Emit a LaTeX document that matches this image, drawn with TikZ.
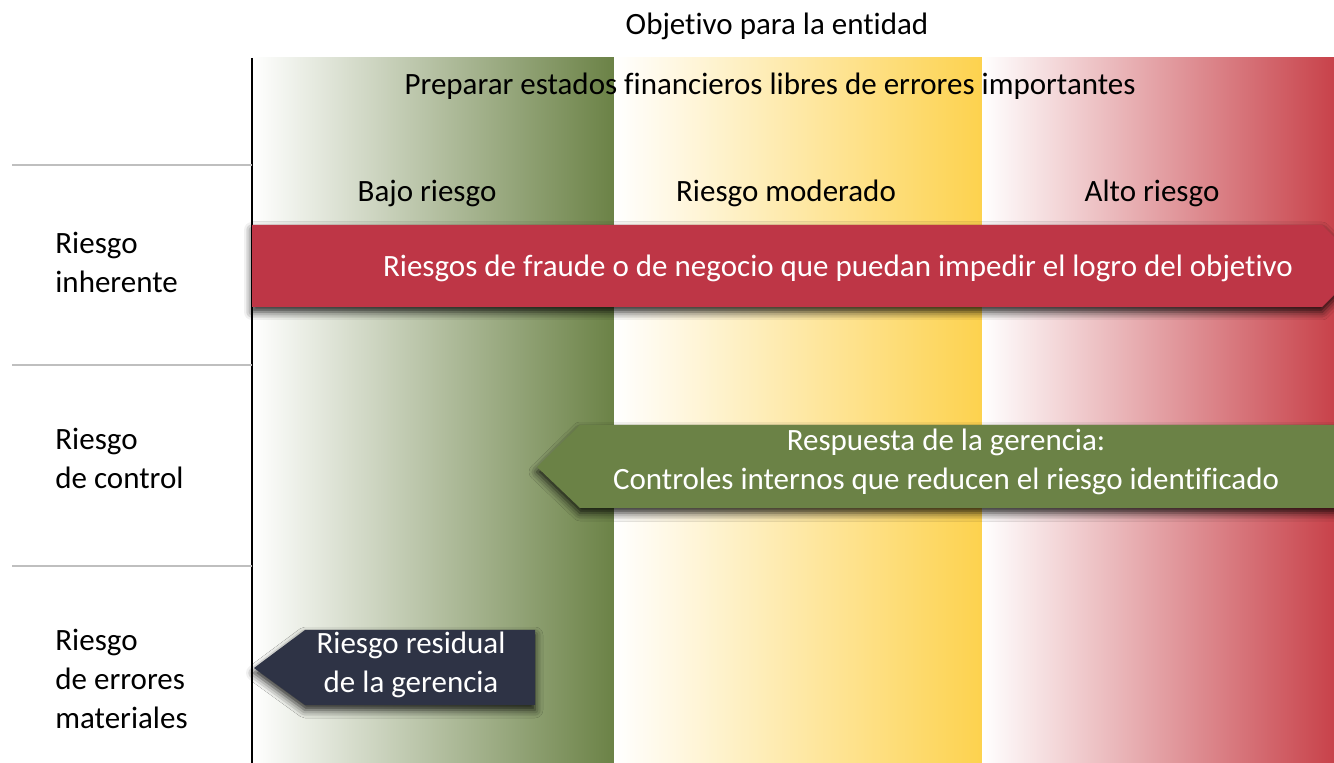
\documentclass[tikz,border=0pt]{standalone}
\usepackage{fontspec}
\setmainfont{Carlito}[Ligatures=NoCommon]
\usetikzlibrary{shapes,arrows,positioning,calc,shadows.blur}
\definecolor{verde}{HTML}{6B8246}
\definecolor{oro}{HTML}{FDD24E}
\definecolor{rojo}{HTML}{C8424A}
\definecolor{rojoflecha}{HTML}{BE3646}
\definecolor{marino}{HTML}{2E3345}
\tikzstyle{texto} = [inner sep=0pt, align=center, anchor=base, font=\fontsize{15.5}{19.5}\selectfont]
\tikzstyle{rotulo} = [texto, align=left, anchor=base west]
\tikzstyle{blanco} = [texto, text=white]
\tikzstyle{separador} = [draw=black!25, line width=0.6pt]
\tikzstyle{sombra} = [blur shadow={shadow xshift=0pt, shadow yshift=-2.5pt, shadow blur radius=4pt, shadow opacity=85}]

\begin{document}
\begin{tikzpicture}[x=0.5pt, y=-0.5pt]
    \clip (0,0) rectangle (1334,763);
    
    % bandas de riesgo
    \shade[left color=white, right color=verde] (252,58) rectangle (614,763);
    \shade[left color=white, right color=oro] (614,58) rectangle (982,763);
    \shade[left color=white, right color=rojo] (982,58) rectangle (1334,763);
    \draw[line width=0.6pt] (252,58) -- (252,763);
    \draw[separador] (12,165) -- (252,165);
    \draw[separador] (12,365) -- (252,365);
    \draw[separador] (12,566) -- (252,566);
    
    \node[texto] (objetivo) at (777,35) {Objetivo para la entidad};
    \node[texto] (meta) at (770,95) {Preparar estados financieros libres de errores importantes};
    \node[texto] (bajo) at (427,202) {Bajo riesgo};
    \node[texto] (moderado) at (786,202) {Riesgo moderado};
    \node[texto] (alto) at (1152,202) {Alto riesgo};
    
    % base = ultima linea
    \node[rotulo] (inherente) at (55,293) {Riesgo\\inherente};
    \node[rotulo] (control) at (55,489) {Riesgo\\de control};
    \node[rotulo] (materiales) at (55,729) {Riesgo\\de errores\\materiales};
    
    % flechas
    \fill[rojoflecha, sombra] (252,225) -- (1322,225) -- (1363,266) -- (1322,307) -- (252,307) -- cycle;
    \node[blanco] (fraude) at (838,277) {Riesgos de fraude o de negocio que puedan impedir el logro del objetivo};
    
    \fill[verde, sombra] (537,467) -- (580,425) -- (1380,425) -- (1380,508) -- (580,508) -- cycle;
    \node[blanco] (respuesta) at (946,490) {Respuesta de la gerencia:\\Controles internos que reducen el riesgo identificado};
    
    \fill[marino, sombra] (254,668) -- (305,630) -- (535,630) -- (535,705) -- (305,705) -- cycle;
    \node[blanco] (residual) at (411,693) {Riesgo residual\\de la gerencia};
\end{tikzpicture}
\end{document}
